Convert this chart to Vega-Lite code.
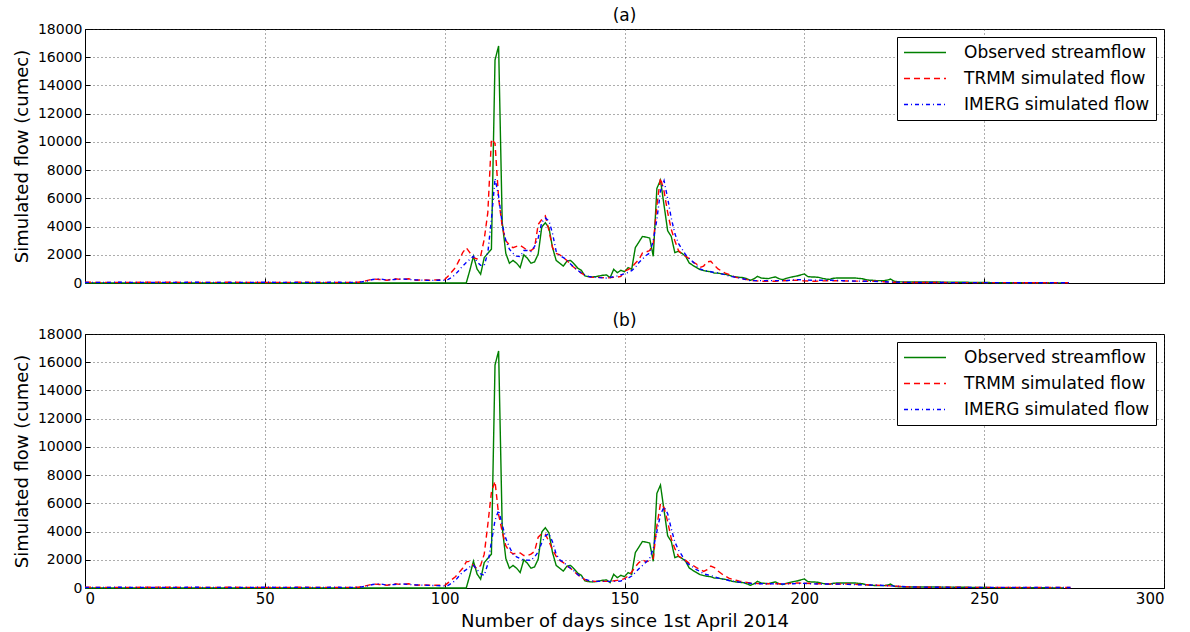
{
  "$schema": "https://vega.github.io/schema/vega-lite/v6.json",
  "padding": {"left": 12, "top": 6, "right": 5, "bottom": 2},
  "background": "white",
  "datasets": {
    "obs": [
      {"s":"O","d":0,"v":0},{"s":"O","d":106,"v":0},{"s":"O","d":107,"v":900},{"s":"O","d":108,"v":1900},{"s":"O","d":109,"v":1000},{"s":"O","d":110,"v":620},{"s":"O","d":111,"v":1800},{"s":"O","d":112,"v":2100},{"s":"O","d":113,"v":2400},{"s":"O","d":114,"v":15800},{"s":"O","d":115,"v":16800},{"s":"O","d":116,"v":4300},{"s":"O","d":117,"v":2100},{"s":"O","d":118,"v":1400},{"s":"O","d":119,"v":1600},{"s":"O","d":120,"v":1400},{"s":"O","d":121,"v":1100},{"s":"O","d":122,"v":2000},{"s":"O","d":123,"v":1750},{"s":"O","d":124,"v":1400},{"s":"O","d":125,"v":1500},{"s":"O","d":126,"v":2050},{"s":"O","d":127,"v":3970},{"s":"O","d":128,"v":4270},{"s":"O","d":129,"v":3900},{"s":"O","d":130,"v":2500},{"s":"O","d":131,"v":1600},{"s":"O","d":132,"v":1400},{"s":"O","d":133,"v":1200},{"s":"O","d":134,"v":1550},{"s":"O","d":135,"v":1600},{"s":"O","d":136,"v":1350},{"s":"O","d":137,"v":1050},{"s":"O","d":138,"v":900},{"s":"O","d":139,"v":500},{"s":"O","d":140,"v":450},{"s":"O","d":141,"v":430},{"s":"O","d":142,"v":450},{"s":"O","d":143,"v":500},{"s":"O","d":144,"v":550},{"s":"O","d":145,"v":570},{"s":"O","d":146,"v":380},{"s":"O","d":147,"v":970},{"s":"O","d":148,"v":730},{"s":"O","d":149,"v":900},{"s":"O","d":150,"v":800},{"s":"O","d":151,"v":1090},{"s":"O","d":152,"v":970},{"s":"O","d":153,"v":2500},{"s":"O","d":154,"v":2900},{"s":"O","d":155,"v":3300},{"s":"O","d":156,"v":3250},{"s":"O","d":157,"v":3190},{"s":"O","d":158,"v":1890},{"s":"O","d":159,"v":6700},{"s":"O","d":160,"v":7300},{"s":"O","d":161,"v":5500},{"s":"O","d":162,"v":3700},{"s":"O","d":163,"v":3300},{"s":"O","d":164,"v":2150},{"s":"O","d":165,"v":2250},{"s":"O","d":166,"v":2100},{"s":"O","d":167,"v":1890},{"s":"O","d":168,"v":1420},{"s":"O","d":169,"v":1250},{"s":"O","d":170,"v":1100},{"s":"O","d":171,"v":950},{"s":"O","d":172,"v":880},{"s":"O","d":173,"v":830},{"s":"O","d":174,"v":800},{"s":"O","d":175,"v":700},{"s":"O","d":176,"v":700},{"s":"O","d":177,"v":650},{"s":"O","d":178,"v":615},{"s":"O","d":179,"v":550},{"s":"O","d":180,"v":470},{"s":"O","d":181,"v":430},{"s":"O","d":182,"v":400},{"s":"O","d":183,"v":380},{"s":"O","d":184,"v":300},{"s":"O","d":185,"v":190},{"s":"O","d":186,"v":300},{"s":"O","d":187,"v":470},{"s":"O","d":188,"v":355},{"s":"O","d":189,"v":330},{"s":"O","d":190,"v":310},{"s":"O","d":191,"v":380},{"s":"O","d":192,"v":430},{"s":"O","d":193,"v":300},{"s":"O","d":194,"v":240},{"s":"O","d":195,"v":330},{"s":"O","d":196,"v":400},{"s":"O","d":197,"v":450},{"s":"O","d":198,"v":500},{"s":"O","d":199,"v":570},{"s":"O","d":200,"v":640},{"s":"O","d":201,"v":450},{"s":"O","d":202,"v":430},{"s":"O","d":203,"v":420},{"s":"O","d":204,"v":400},{"s":"O","d":205,"v":330},{"s":"O","d":206,"v":280},{"s":"O","d":207,"v":260},{"s":"O","d":208,"v":330},{"s":"O","d":209,"v":355},{"s":"O","d":211,"v":355},{"s":"O","d":214,"v":355},{"s":"O","d":215,"v":330},{"s":"O","d":216,"v":310},{"s":"O","d":217,"v":250},{"s":"O","d":218,"v":200},{"s":"O","d":219,"v":190},{"s":"O","d":220,"v":170},{"s":"O","d":222,"v":165},{"s":"O","d":223,"v":200},{"s":"O","d":224,"v":280},{"s":"O","d":225,"v":120},{"s":"O","d":226,"v":90},{"s":"O","d":228,"v":70},{"s":"O","d":236,"v":70},{"s":"O","d":245,"v":50},{"s":"O","d":255,"v":20},{"s":"O","d":272,"v":10}
    ],
    "a": [
      {"s":"T","d":0,"v":50},{"s":"T","d":10,"v":40},{"s":"T","d":20,"v":60},{"s":"T","d":30,"v":40},{"s":"T","d":40,"v":50},{"s":"T","d":50,"v":40},{"s":"T","d":60,"v":50},{"s":"T","d":70,"v":40},{"s":"T","d":76,"v":50},{"s":"T","d":78,"v":150},{"s":"T","d":80,"v":280},{"s":"T","d":82,"v":250},{"s":"T","d":84,"v":200},{"s":"T","d":86,"v":300},{"s":"T","d":88,"v":250},{"s":"T","d":90,"v":300},{"s":"T","d":92,"v":200},{"s":"T","d":94,"v":220},{"s":"T","d":96,"v":200},{"s":"T","d":98,"v":220},{"s":"T","d":100,"v":250},{"s":"T","d":101,"v":500},{"s":"T","d":102,"v":800},{"s":"T","d":103,"v":1100},{"s":"T","d":104,"v":1600},{"s":"T","d":105,"v":2150},{"s":"T","d":106,"v":2500},{"s":"T","d":107,"v":2150},{"s":"T","d":108,"v":1800},{"s":"T","d":109,"v":1700},{"s":"T","d":110,"v":1900},{"s":"T","d":111,"v":3100},{"s":"T","d":112,"v":5000},{"s":"T","d":113,"v":10200},{"s":"T","d":114,"v":9900},{"s":"T","d":115,"v":6000},{"s":"T","d":116,"v":4000},{"s":"T","d":117,"v":3000},{"s":"T","d":118,"v":2700},{"s":"T","d":119,"v":2500},{"s":"T","d":120,"v":2600},{"s":"T","d":121,"v":2670},{"s":"T","d":122,"v":2500},{"s":"T","d":123,"v":2300},{"s":"T","d":124,"v":2300},{"s":"T","d":125,"v":2500},{"s":"T","d":126,"v":4150},{"s":"T","d":127,"v":4500},{"s":"T","d":128,"v":4750},{"s":"T","d":129,"v":3700},{"s":"T","d":130,"v":2500},{"s":"T","d":131,"v":2100},{"s":"T","d":132,"v":2000},{"s":"T","d":133,"v":1800},{"s":"T","d":134,"v":1600},{"s":"T","d":135,"v":1300},{"s":"T","d":136,"v":1100},{"s":"T","d":137,"v":900},{"s":"T","d":138,"v":700},{"s":"T","d":139,"v":540},{"s":"T","d":140,"v":450},{"s":"T","d":141,"v":400},{"s":"T","d":143,"v":400},{"s":"T","d":144,"v":380},{"s":"T","d":145,"v":350},{"s":"T","d":146,"v":380},{"s":"T","d":147,"v":400},{"s":"T","d":148,"v":420},{"s":"T","d":149,"v":470},{"s":"T","d":150,"v":830},{"s":"T","d":151,"v":950},{"s":"T","d":152,"v":1110},{"s":"T","d":153,"v":1400},{"s":"T","d":154,"v":1650},{"s":"T","d":155,"v":2130},{"s":"T","d":156,"v":2200},{"s":"T","d":157,"v":2300},{"s":"T","d":158,"v":2800},{"s":"T","d":159,"v":5500},{"s":"T","d":160,"v":7450},{"s":"T","d":161,"v":6500},{"s":"T","d":162,"v":5000},{"s":"T","d":163,"v":3800},{"s":"T","d":164,"v":3000},{"s":"T","d":165,"v":2300},{"s":"T","d":166,"v":2050},{"s":"T","d":167,"v":1900},{"s":"T","d":168,"v":1720},{"s":"T","d":169,"v":1500},{"s":"T","d":170,"v":1350},{"s":"T","d":171,"v":1100},{"s":"T","d":172,"v":1200},{"s":"T","d":173,"v":1500},{"s":"T","d":174,"v":1540},{"s":"T","d":175,"v":1250},{"s":"T","d":176,"v":1000},{"s":"T","d":177,"v":850},{"s":"T","d":178,"v":700},{"s":"T","d":179,"v":615},{"s":"T","d":180,"v":500},{"s":"T","d":181,"v":400},{"s":"T","d":182,"v":355},{"s":"T","d":183,"v":280},{"s":"T","d":184,"v":240},{"s":"T","d":185,"v":200},{"s":"T","d":186,"v":165},{"s":"T","d":188,"v":130},{"s":"T","d":190,"v":120},{"s":"T","d":192,"v":120},{"s":"T","d":194,"v":160},{"s":"T","d":196,"v":180},{"s":"T","d":198,"v":190},{"s":"T","d":200,"v":150},{"s":"T","d":203,"v":120},{"s":"T","d":205,"v":150},{"s":"T","d":208,"v":165},{"s":"T","d":210,"v":150},{"s":"T","d":212,"v":140},{"s":"T","d":215,"v":130},{"s":"T","d":217,"v":120},{"s":"T","d":220,"v":120},{"s":"T","d":222,"v":90},{"s":"T","d":224,"v":50},{"s":"T","d":230,"v":40},{"s":"T","d":240,"v":30},{"s":"T","d":250,"v":30},{"s":"T","d":260,"v":20},{"s":"T","d":274,"v":20},
      {"s":"I","d":0,"v":40},{"s":"I","d":10,"v":50},{"s":"I","d":20,"v":40},{"s":"I","d":30,"v":50},{"s":"I","d":40,"v":40},{"s":"I","d":50,"v":50},{"s":"I","d":60,"v":40},{"s":"I","d":70,"v":50},{"s":"I","d":76,"v":40},{"s":"I","d":78,"v":120},{"s":"I","d":80,"v":250},{"s":"I","d":82,"v":300},{"s":"I","d":84,"v":200},{"s":"I","d":86,"v":250},{"s":"I","d":88,"v":300},{"s":"I","d":90,"v":250},{"s":"I","d":92,"v":220},{"s":"I","d":94,"v":200},{"s":"I","d":96,"v":180},{"s":"I","d":98,"v":200},{"s":"I","d":100,"v":200},{"s":"I","d":101,"v":260},{"s":"I","d":102,"v":400},{"s":"I","d":103,"v":620},{"s":"I","d":104,"v":900},{"s":"I","d":105,"v":1200},{"s":"I","d":106,"v":1450},{"s":"I","d":107,"v":1680},{"s":"I","d":108,"v":1900},{"s":"I","d":109,"v":1500},{"s":"I","d":110,"v":1250},{"s":"I","d":111,"v":1250},{"s":"I","d":112,"v":2150},{"s":"I","d":113,"v":4500},{"s":"I","d":114,"v":7400},{"s":"I","d":115,"v":6150},{"s":"I","d":116,"v":4200},{"s":"I","d":117,"v":3000},{"s":"I","d":118,"v":2400},{"s":"I","d":119,"v":2100},{"s":"I","d":120,"v":1900},{"s":"I","d":121,"v":1880},{"s":"I","d":122,"v":2300},{"s":"I","d":123,"v":2300},{"s":"I","d":124,"v":2240},{"s":"I","d":125,"v":2600},{"s":"I","d":126,"v":3190},{"s":"I","d":127,"v":4300},{"s":"I","d":128,"v":4600},{"s":"I","d":129,"v":4400},{"s":"I","d":130,"v":3500},{"s":"I","d":131,"v":2240},{"s":"I","d":132,"v":1950},{"s":"I","d":133,"v":1800},{"s":"I","d":134,"v":1650},{"s":"I","d":135,"v":1350},{"s":"I","d":136,"v":1100},{"s":"I","d":137,"v":900},{"s":"I","d":138,"v":710},{"s":"I","d":139,"v":580},{"s":"I","d":140,"v":470},{"s":"I","d":141,"v":420},{"s":"I","d":142,"v":400},{"s":"I","d":143,"v":380},{"s":"I","d":144,"v":360},{"s":"I","d":145,"v":350},{"s":"I","d":146,"v":400},{"s":"I","d":147,"v":450},{"s":"I","d":148,"v":500},{"s":"I","d":149,"v":580},{"s":"I","d":150,"v":650},{"s":"I","d":151,"v":750},{"s":"I","d":152,"v":875},{"s":"I","d":153,"v":1100},{"s":"I","d":154,"v":1450},{"s":"I","d":155,"v":1700},{"s":"I","d":156,"v":1950},{"s":"I","d":157,"v":2130},{"s":"I","d":158,"v":3000},{"s":"I","d":159,"v":4500},{"s":"I","d":160,"v":6500},{"s":"I","d":161,"v":7250},{"s":"I","d":162,"v":6000},{"s":"I","d":163,"v":4600},{"s":"I","d":164,"v":3500},{"s":"I","d":165,"v":2800},{"s":"I","d":166,"v":2400},{"s":"I","d":167,"v":2000},{"s":"I","d":168,"v":1750},{"s":"I","d":169,"v":1500},{"s":"I","d":170,"v":1250},{"s":"I","d":171,"v":1000},{"s":"I","d":172,"v":900},{"s":"I","d":173,"v":850},{"s":"I","d":174,"v":800},{"s":"I","d":175,"v":750},{"s":"I","d":176,"v":710},{"s":"I","d":177,"v":650},{"s":"I","d":178,"v":580},{"s":"I","d":179,"v":500},{"s":"I","d":180,"v":450},{"s":"I","d":181,"v":400},{"s":"I","d":182,"v":355},{"s":"I","d":183,"v":300},{"s":"I","d":184,"v":230},{"s":"I","d":185,"v":170},{"s":"I","d":188,"v":165},{"s":"I","d":192,"v":165},{"s":"I","d":195,"v":165},{"s":"I","d":198,"v":240},{"s":"I","d":200,"v":220},{"s":"I","d":202,"v":190},{"s":"I","d":205,"v":190},{"s":"I","d":208,"v":190},{"s":"I","d":211,"v":160},{"s":"I","d":213,"v":140},{"s":"I","d":216,"v":130},{"s":"I","d":219,"v":120},{"s":"I","d":222,"v":90},{"s":"I","d":224,"v":70},{"s":"I","d":230,"v":40},{"s":"I","d":240,"v":30},{"s":"I","d":250,"v":30},{"s":"I","d":260,"v":20},{"s":"I","d":274,"v":20}
    ],
    "b": [
      {"s":"T","d":0,"v":50},{"s":"T","d":10,"v":40},{"s":"T","d":20,"v":60},{"s":"T","d":30,"v":40},{"s":"T","d":40,"v":50},{"s":"T","d":50,"v":40},{"s":"T","d":60,"v":50},{"s":"T","d":70,"v":40},{"s":"T","d":76,"v":50},{"s":"T","d":78,"v":150},{"s":"T","d":80,"v":280},{"s":"T","d":82,"v":250},{"s":"T","d":84,"v":200},{"s":"T","d":86,"v":300},{"s":"T","d":88,"v":250},{"s":"T","d":90,"v":300},{"s":"T","d":92,"v":200},{"s":"T","d":94,"v":220},{"s":"T","d":96,"v":200},{"s":"T","d":98,"v":200},{"s":"T","d":100,"v":180},{"s":"T","d":101,"v":380},{"s":"T","d":102,"v":600},{"s":"T","d":103,"v":800},{"s":"T","d":104,"v":1100},{"s":"T","d":105,"v":1400},{"s":"T","d":106,"v":1850},{"s":"T","d":107,"v":1890},{"s":"T","d":108,"v":1600},{"s":"T","d":109,"v":1370},{"s":"T","d":110,"v":1600},{"s":"T","d":111,"v":2400},{"s":"T","d":112,"v":4500},{"s":"T","d":113,"v":6800},{"s":"T","d":114,"v":7560},{"s":"T","d":115,"v":5200},{"s":"T","d":116,"v":4000},{"s":"T","d":117,"v":3000},{"s":"T","d":118,"v":2600},{"s":"T","d":119,"v":2430},{"s":"T","d":120,"v":2450},{"s":"T","d":121,"v":2480},{"s":"T","d":122,"v":2300},{"s":"T","d":123,"v":2300},{"s":"T","d":124,"v":2400},{"s":"T","d":125,"v":2600},{"s":"T","d":126,"v":3600},{"s":"T","d":127,"v":3850},{"s":"T","d":128,"v":3800},{"s":"T","d":129,"v":3300},{"s":"T","d":130,"v":2700},{"s":"T","d":131,"v":2250},{"s":"T","d":132,"v":1950},{"s":"T","d":133,"v":1800},{"s":"T","d":134,"v":1550},{"s":"T","d":135,"v":1400},{"s":"T","d":136,"v":1150},{"s":"T","d":137,"v":950},{"s":"T","d":138,"v":750},{"s":"T","d":139,"v":600},{"s":"T","d":140,"v":480},{"s":"T","d":142,"v":470},{"s":"T","d":146,"v":470},{"s":"T","d":148,"v":540},{"s":"T","d":149,"v":580},{"s":"T","d":150,"v":660},{"s":"T","d":151,"v":850},{"s":"T","d":152,"v":1130},{"s":"T","d":153,"v":1500},{"s":"T","d":154,"v":1800},{"s":"T","d":155,"v":2010},{"s":"T","d":156,"v":1850},{"s":"T","d":157,"v":1950},{"s":"T","d":158,"v":2100},{"s":"T","d":159,"v":4400},{"s":"T","d":160,"v":5980},{"s":"T","d":161,"v":5700},{"s":"T","d":162,"v":4700},{"s":"T","d":163,"v":3500},{"s":"T","d":164,"v":2790},{"s":"T","d":165,"v":2270},{"s":"T","d":166,"v":2100},{"s":"T","d":167,"v":1960},{"s":"T","d":168,"v":1750},{"s":"T","d":169,"v":1610},{"s":"T","d":170,"v":1450},{"s":"T","d":171,"v":1320},{"s":"T","d":172,"v":1180},{"s":"T","d":173,"v":1300},{"s":"T","d":174,"v":1560},{"s":"T","d":175,"v":1450},{"s":"T","d":176,"v":1200},{"s":"T","d":177,"v":1010},{"s":"T","d":178,"v":850},{"s":"T","d":179,"v":700},{"s":"T","d":180,"v":610},{"s":"T","d":181,"v":550},{"s":"T","d":182,"v":490},{"s":"T","d":183,"v":450},{"s":"T","d":184,"v":400},{"s":"T","d":185,"v":350},{"s":"T","d":187,"v":320},{"s":"T","d":189,"v":305},{"s":"T","d":194,"v":305},{"s":"T","d":196,"v":320},{"s":"T","d":198,"v":350},{"s":"T","d":200,"v":340},{"s":"T","d":203,"v":305},{"s":"T","d":206,"v":290},{"s":"T","d":212,"v":280},{"s":"T","d":215,"v":250},{"s":"T","d":217,"v":235},{"s":"T","d":220,"v":200},{"s":"T","d":222,"v":180},{"s":"T","d":224,"v":150},{"s":"T","d":226,"v":120},{"s":"T","d":228,"v":90},{"s":"T","d":232,"v":60},{"s":"T","d":240,"v":50},{"s":"T","d":260,"v":40},{"s":"T","d":274,"v":40},
      {"s":"I","d":0,"v":40},{"s":"I","d":10,"v":50},{"s":"I","d":20,"v":40},{"s":"I","d":30,"v":50},{"s":"I","d":40,"v":40},{"s":"I","d":50,"v":50},{"s":"I","d":60,"v":40},{"s":"I","d":70,"v":50},{"s":"I","d":76,"v":40},{"s":"I","d":78,"v":120},{"s":"I","d":80,"v":250},{"s":"I","d":82,"v":300},{"s":"I","d":84,"v":200},{"s":"I","d":86,"v":250},{"s":"I","d":88,"v":300},{"s":"I","d":90,"v":250},{"s":"I","d":92,"v":220},{"s":"I","d":94,"v":200},{"s":"I","d":96,"v":180},{"s":"I","d":98,"v":170},{"s":"I","d":100,"v":150},{"s":"I","d":101,"v":190},{"s":"I","d":102,"v":350},{"s":"I","d":103,"v":540},{"s":"I","d":104,"v":850},{"s":"I","d":105,"v":1130},{"s":"I","d":106,"v":1300},{"s":"I","d":107,"v":1490},{"s":"I","d":108,"v":1610},{"s":"I","d":109,"v":1300},{"s":"I","d":110,"v":1000},{"s":"I","d":111,"v":900},{"s":"I","d":112,"v":1700},{"s":"I","d":113,"v":3260},{"s":"I","d":114,"v":4800},{"s":"I","d":115,"v":5500},{"s":"I","d":116,"v":4500},{"s":"I","d":117,"v":3500},{"s":"I","d":118,"v":2900},{"s":"I","d":119,"v":2400},{"s":"I","d":120,"v":2200},{"s":"I","d":121,"v":2080},{"s":"I","d":122,"v":1980},{"s":"I","d":124,"v":1960},{"s":"I","d":125,"v":2200},{"s":"I","d":126,"v":2550},{"s":"I","d":127,"v":3200},{"s":"I","d":128,"v":3700},{"s":"I","d":129,"v":3850},{"s":"I","d":130,"v":3260},{"s":"I","d":131,"v":2400},{"s":"I","d":132,"v":2000},{"s":"I","d":133,"v":1840},{"s":"I","d":134,"v":1600},{"s":"I","d":135,"v":1400},{"s":"I","d":136,"v":1200},{"s":"I","d":137,"v":950},{"s":"I","d":138,"v":750},{"s":"I","d":139,"v":620},{"s":"I","d":140,"v":540},{"s":"I","d":141,"v":500},{"s":"I","d":142,"v":470},{"s":"I","d":148,"v":470},{"s":"I","d":149,"v":500},{"s":"I","d":150,"v":600},{"s":"I","d":151,"v":700},{"s":"I","d":152,"v":850},{"s":"I","d":153,"v":1100},{"s":"I","d":154,"v":1370},{"s":"I","d":155,"v":1600},{"s":"I","d":156,"v":1840},{"s":"I","d":157,"v":2100},{"s":"I","d":158,"v":2800},{"s":"I","d":159,"v":4000},{"s":"I","d":160,"v":5200},{"s":"I","d":161,"v":5740},{"s":"I","d":162,"v":5270},{"s":"I","d":163,"v":4200},{"s":"I","d":164,"v":3260},{"s":"I","d":165,"v":2700},{"s":"I","d":166,"v":2300},{"s":"I","d":167,"v":1840},{"s":"I","d":168,"v":1650},{"s":"I","d":169,"v":1490},{"s":"I","d":170,"v":1300},{"s":"I","d":171,"v":1180},{"s":"I","d":172,"v":1000},{"s":"I","d":173,"v":940},{"s":"I","d":174,"v":880},{"s":"I","d":175,"v":800},{"s":"I","d":176,"v":710},{"s":"I","d":177,"v":650},{"s":"I","d":178,"v":610},{"s":"I","d":179,"v":530},{"s":"I","d":180,"v":480},{"s":"I","d":182,"v":420},{"s":"I","d":184,"v":350},{"s":"I","d":186,"v":305},{"s":"I","d":190,"v":305},{"s":"I","d":194,"v":280},{"s":"I","d":197,"v":300},{"s":"I","d":200,"v":330},{"s":"I","d":202,"v":300},{"s":"I","d":204,"v":280},{"s":"I","d":209,"v":280},{"s":"I","d":212,"v":260},{"s":"I","d":215,"v":235},{"s":"I","d":218,"v":210},{"s":"I","d":221,"v":190},{"s":"I","d":224,"v":150},{"s":"I","d":226,"v":120},{"s":"I","d":229,"v":80},{"s":"I","d":235,"v":50},{"s":"I","d":260,"v":40},{"s":"I","d":274,"v":40}
    ]
  },
  "spacing": 20,
  "resolve": {
    "scale": {"color": "independent", "strokeDash": "independent"},
    "legend": {"color": "independent", "strokeDash": "independent"}
  },
  "vconcat": [
    {
      "title": {"text": "(a)", "fontSize": 17, "fontWeight": "normal", "offset": -3, "color": "black"},
      "width": 1079,
      "height": 254,
      "encoding": {
        "x": {"field": "d", "type": "quantitative", "scale": {"domain": [0, 300], "nice": false},
              "axis": {"values": [0, 50, 100, 150, 200, 250, 300], "labels": false, "title": null}},
        "y": {"field": "v", "type": "quantitative", "scale": {"domain": [0, 18000], "nice": false},
              "axis": {"values": [0, 2000, 4000, 6000, 8000, 10000, 12000, 14000, 16000, 18000], "format": "d", "title": "Simulated flow (cumec)"}},
        "color": {"field": "s", "type": "nominal", "scale": {"domain": ["O", "T", "I"], "range": ["#008000", "#ff0000", "#0000ff"]},
                  "legend": {"title": null, "labelExpr": "datum.value == 'O' ? 'Observed streamflow' : datum.value == 'T' ? 'TRMM simulated flow' : 'IMERG simulated flow'"}},
        "strokeDash": {"field": "s", "type": "nominal", "scale": {"domain": ["O", "T", "I"], "range": [[1, 0], [6, 4], [4, 3, 1, 3]]},
                  "legend": {"title": null, "labelExpr": "datum.value == 'O' ? 'Observed streamflow' : datum.value == 'T' ? 'TRMM simulated flow' : 'IMERG simulated flow'"}}
      },
      "layer": [
        {"data": {"name": "obs"}, "mark": {"type": "line", "strokeWidth": 1.4}},
        {"data": {"name": "a"}, "mark": {"type": "line", "strokeWidth": 1.4}}
      ]
    },
    {
      "title": {"text": "(b)", "fontSize": 17, "fontWeight": "normal", "offset": -3, "color": "black"},
      "width": 1079,
      "height": 254,
      "encoding": {
        "x": {"field": "d", "type": "quantitative", "scale": {"domain": [0, 300], "nice": false},
              "axis": {"values": [0, 50, 100, 150, 200, 250, 300], "title": "Number of days since 1st April 2014"}},
        "y": {"field": "v", "type": "quantitative", "scale": {"domain": [0, 18000], "nice": false},
              "axis": {"values": [0, 2000, 4000, 6000, 8000, 10000, 12000, 14000, 16000, 18000], "format": "d", "title": "Simulated flow (cumec)"}},
        "color": {"field": "s", "type": "nominal", "scale": {"domain": ["O", "T", "I"], "range": ["#008000", "#ff0000", "#0000ff"]},
                  "legend": {"title": null, "labelExpr": "datum.value == 'O' ? 'Observed streamflow' : datum.value == 'T' ? 'TRMM simulated flow' : 'IMERG simulated flow'"}},
        "strokeDash": {"field": "s", "type": "nominal", "scale": {"domain": ["O", "T", "I"], "range": [[1, 0], [6, 4], [4, 3, 1, 3]]},
                  "legend": {"title": null, "labelExpr": "datum.value == 'O' ? 'Observed streamflow' : datum.value == 'T' ? 'TRMM simulated flow' : 'IMERG simulated flow'"}}
      },
      "layer": [
        {"data": {"name": "obs"}, "mark": {"type": "line", "strokeWidth": 1.4}},
        {"data": {"name": "b"}, "mark": {"type": "line", "strokeWidth": 1.4}}
      ]
    }
  ],
  "config": {
    "font": "DejaVu Sans",
    "view": {"stroke": "#000", "strokeWidth": 1},
    "axis": {
      "grid": true, "gridColor": "#333", "gridDash": [1, 3], "gridWidth": 1, "gridOpacity": 0.8,
      "domainColor": "#000", "tickColor": "#000", "tickSize": -5,
      "labelColor": "#000", "labelFontSize": 14, "labelPadding": 8,
      "titleColor": "#000", "titleFontSize": 18, "titleFontWeight": "normal", "titlePadding": 6
    },
    "axisX": {"labelFontSize": 15},
    "legend": {
      "orient": "top-right", "offset": 8, "fillColor": "white", "strokeColor": "#000", "padding": 6,
      "labelFontSize": 17, "labelColor": "#000", "labelOffset": 17, "symbolType": "stroke", "symbolSize": 1764,
      "symbolStrokeWidth": 1.5, "clipHeight": 19, "rowPadding": 7, "cornerRadius": 0, "labelLimit": 400
    }
  }
}
